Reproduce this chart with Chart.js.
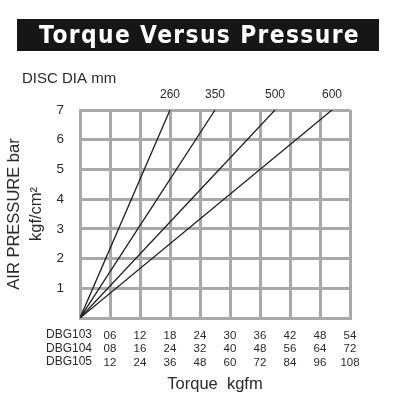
<!DOCTYPE html>
<html>
<head>
<meta charset="utf-8">
<script src="https://cdn.jsdelivr.net/npm/chart.js@4"></script>
<style>
  html, body { margin: 0; padding: 0; background: #fff; }
  #wrap { width: 400px; height: 400px; position: relative; }
</style>
</head>
<body>
<div id="wrap"><canvas id="torqueChart"></canvas></div>
<script>
// disc diameters and the DBG103 torque each line reaches at 7 bar
const discDia = ['260', '350', '500', '600'];
const torqueAt7 = [18, 27, 39, 50.4];
const pressureMax = 7;

// tick label rows under the x axis
const models = ['DBG103', 'DBG104', 'DBG105'];
const dbg103 = ['06', '12', '18', '24', '30', '36', '42', '48', '54'];
const dbg104 = ['08', '16', '24', '32', '40', '48', '56', '64', '72'];
const dbg105 = ['12', '24', '36', '48', '60', '72', '84', '96', '108'];
const pressureTicks = ['', '1', '2', '3', '4', '5', '6', '7'];

const gridGray = '#a9a9a9';
const textColor = '#2a2a2a';

const datasets = discDia.map((d, i) => ({
    label: d,
    data: [{ x: 0, y: 0 }, { x: torqueAt7[i], y: pressureMax }],
    borderColor: '#1e1e1e',
    borderWidth: 1.3,
    pointRadius: 0,
    fill: false
}));

// title box, "DISC DIA mm", line end labels, model names
const decorations = {
    id: 'decorations',
    afterDraw(chart) {
        const ctx = chart.ctx;
        const x = chart.scales.x, y = chart.scales.y;
        ctx.save();
        ctx.fillStyle = '#161616';
        ctx.fillRect(17, 19, 362, 32);

        // title squeezed to the width it has in the picture
        const title = 'Torque Versus Pressure';
        ctx.font = 'bold 24px "DejaVu Sans"';
        ctx.letterSpacing = '1.5px';
        const w = ctx.measureText(title).width;
        ctx.save();
        ctx.translate(39, 43);
        ctx.scale(321 / w, 1);
        ctx.fillStyle = '#fff';
        ctx.textAlign = 'left';
        ctx.textBaseline = 'alphabetic';
        ctx.fillText(title, 0, 0);
        ctx.restore();
        ctx.letterSpacing = '0px';

        ctx.fillStyle = textColor;
        ctx.textAlign = 'left';
        ctx.font = '15px "Liberation Sans", Arial';
        ctx.fillText('DISC DIA mm', 22, 83);

        ctx.font = '12px "Liberation Sans", Arial';
        ctx.textAlign = 'center';
        chart.data.datasets.forEach(ds => {
            const p = ds.data[1];
            ctx.fillText(ds.label, x.getPixelForValue(p.x), y.getPixelForValue(p.y) - 12);
        });

        ctx.textAlign = 'right';
        models.forEach((m, i) => {
            ctx.fillText(m, x.getPixelForValue(0) + 12, y.bottom + 20 + i * 13.5);
        });
        ctx.restore();
    }
};

new Chart(document.getElementById('torqueChart'), {
    type: 'line',
    data: { datasets: datasets },
    options: {
        responsive: true,
        maintainAspectRatio: false,
        animation: false,
        layout: { padding: { top: 110, right: 50, left: 0, bottom: 0 } },
        plugins: {
            legend: { display: false },
            tooltip: { enabled: false }
        },
        scales: {
            x: {
                type: 'linear',
                min: 0,
                max: 54,
                afterFit: s => { s.height = 82; },
                afterBuildTicks: s => { s.ticks = [0, 6, 12, 18, 24, 30, 36, 42, 48, 54].map(v => ({ value: v })); },
                grid: { color: gridGray, lineWidth: 3, drawTicks: false },
                border: { color: gridGray, width: 3 },
                ticks: {
                    padding: 11,
                    maxRotation: 0,
                    autoSkip: false,
                    color: textColor,
                    font: { family: '"Liberation Sans", Arial', size: 11.5, lineHeight: 1.17 },
                    callback: (v, i) => i === 0 ? '' : [dbg103[i - 1], dbg104[i - 1], dbg105[i - 1]]
                },
                title: {
                    display: true,
                    text: 'Torque  kgfm',
                    color: textColor,
                    font: { family: '"Liberation Sans", Arial', size: 16.5 },
                    padding: { top: 0, bottom: 6 }
                }
            },
            y: {
                min: 0,
                max: pressureMax,
                afterFit: s => { s.width = 80; },
                grid: { color: gridGray, lineWidth: 3, drawTicks: false },
                border: { color: gridGray, width: 3 },
                ticks: {
                    stepSize: 1,
                    padding: 16,
                    color: textColor,
                    font: { family: '"Liberation Sans", Arial', size: 13.5 },
                    callback: v => pressureTicks[v]
                },
                title: {
                    display: true,
                    text: ['AIR PRESSURE bar', 'kgf/cm²'],
                    color: textColor,
                    font: { family: '"Liberation Sans", Arial', size: 16.5, lineHeight: 1.3 },
                    padding: { top: 4, bottom: 0 }
                }
            }
        }
    },
    plugins: [decorations]
});
</script>
</body>
</html>
